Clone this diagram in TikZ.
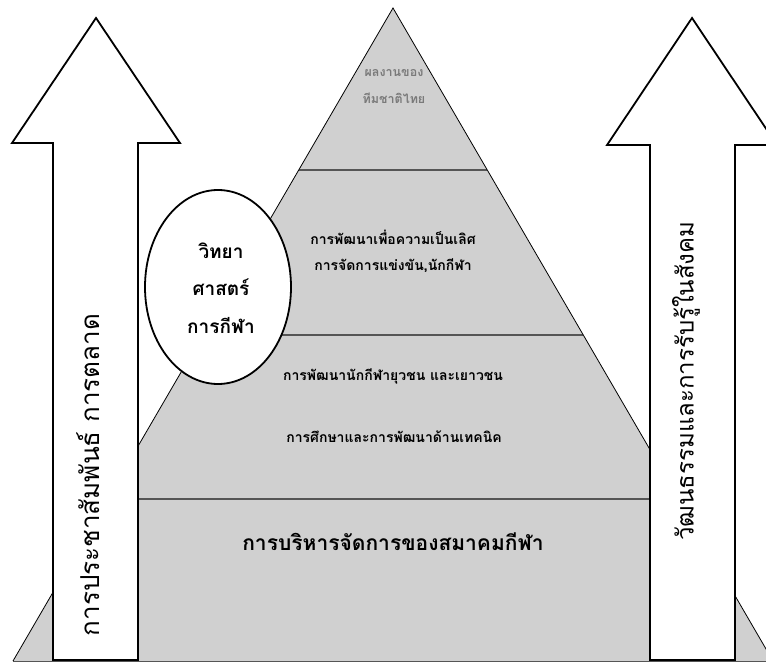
\documentclass[tikz,border=0pt]{standalone}
\usepackage{fontspec}
\newfontfamily\thai[Script=Thai]{Loma}
\usetikzlibrary{shapes.geometric}
\definecolor{pyrfill}{HTML}{D0D0D0}
\definecolor{divline}{HTML}{555555}
\definecolor{toptext}{HTML}{7A7A7A}
\begin{document}
\begin{tikzpicture}[x=1pt,y=-1pt,
  toplabel/.style={font=\thai\bfseries\fontsize{12.5}{15}\selectfont, text=toptext, inner sep=0pt},
  tierlabel/.style={font=\thai\bfseries\fontsize{14}{17}\selectfont, text=black, inner sep=0pt},
  baselabel/.style={font=\thai\bfseries\fontsize{21}{25}\selectfont, text=black, inner sep=0pt},
  sciencelabel/.style={font=\thai\bfseries\fontsize{19}{37.5}\selectfont, align=center, inner sep=0pt},
  arrowlabel/.style={font=\thai\fontsize{26}{30}\selectfont, rotate=90, inner sep=0pt},
  divider/.style={draw=divline, line width=2pt},
  bigarrow/.style={draw=black, line width=1.8pt, fill=white, line join=miter},
]
\useasboundingbox (0,0) rectangle (766,663);
\begin{scope}
\clip (0,0) rectangle (766,663);
% pyramid
\fill[pyrfill] (393,8) -- (13,661) -- (773,661) -- cycle;
\draw[divider] (298.7,170) -- (487.3,170);
\draw[divider] (202.7,335) -- (583.3,335);
\draw[divider] (107.3,499) -- (678.7,499);
\draw[divline, line width=1.5pt] (13,661.5) -- (773,661.5);
\draw[black, line width=0.8pt] (13,661) -- (393,8) -- (773,661);
% tier labels
\node[toplabel] (res1) at (394,73) {ผลงานของ};
\node[toplabel] (res2) at (394,98) {ทีมชาติไทย};
\node[tierlabel] (elite1) at (393,237) {การพัฒนาเพื่อความเป็นเลิศ};
\node[tierlabel] (elite2) at (393,266) {การจัดการแข่งขัน,นักกีฬา};
\node[tierlabel] (youth1) at (393,376) {การพัฒนานักกีฬายุวชน และเยาวชน};
\node[tierlabel] (youth2) at (394,437) {การศึกษาและการพัฒนาด้านเทคนิค};
\node[baselabel] (admin) at (393,542) {การบริหารจัดการของสมาคมกีฬา};
% sports science ellipse
\node[ellipse, draw=black, line width=1.8pt, fill=white, minimum width=146pt, minimum height=194pt, inner sep=0pt] (sci) at (218,287) {};
\node[sciencelabel] (scitext) at (221,288) {วิทยา\\ศาสตร์\\การกีฬา};
% arrows
\draw[bigarrow] (96,18) -- (180,143) -- (138,143) -- (138,660) -- (53,660) -- (53,143) -- (12,143) -- cycle;
\draw[bigarrow] (692,18) -- (777,145) -- (735,145) -- (735,660) -- (650,660) -- (650,145) -- (607,145) -- cycle;
\node[arrowlabel] (pr) at (88,475) {การประชาสัมพันธ์ การตลาด};
\node[arrowlabel, font=\thai\fontsize{24}{28}\selectfont] (culture) at (686,381) {วัฒนธรรมและการรับรู้ในสังคม};
\end{scope}
\end{tikzpicture}
\end{document}
